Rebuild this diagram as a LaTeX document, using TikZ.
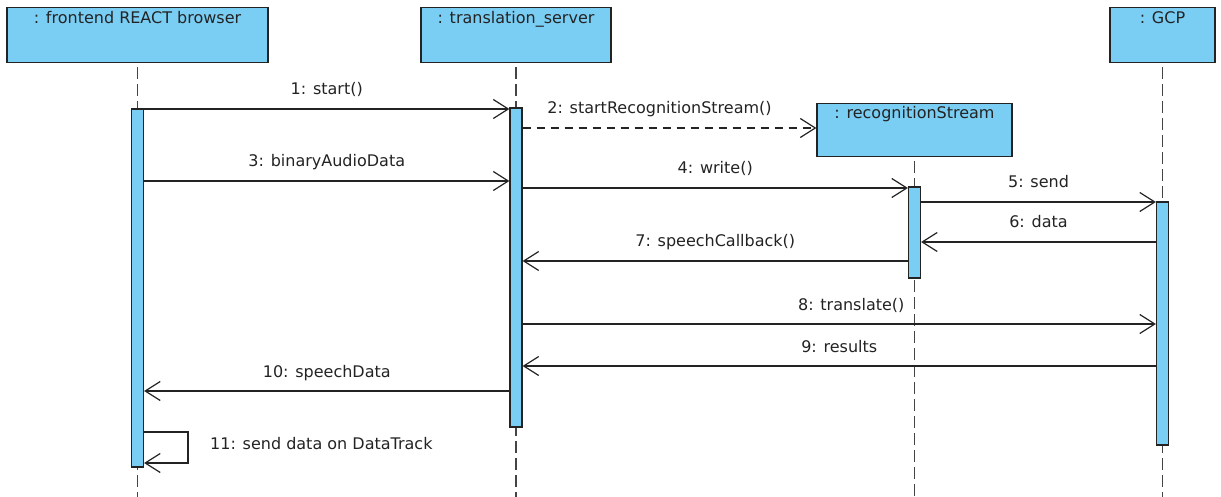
\documentclass[tikz,border=0pt]{standalone}
\usepackage{fontspec}
\setmainfont{DejaVu Sans}
\usetikzlibrary{arrows.meta}
\definecolor{uml}{RGB}{122,206,244}
\definecolor{ink}{RGB}{35,35,35}
\begin{document}
\begin{tikzpicture}[x=1pt,y=-1pt,
  font=\fontsize{16}{19}\selectfont,
  obj/.style={draw=ink, fill=uml, line width=1.2pt, minimum height=55pt, anchor=north, inner sep=0pt},
  act/.style={draw=ink, fill=uml, line width=1.2pt, minimum width=12pt, inner sep=0pt},
  life/.style={draw=ink!85, line width=1.4pt, dash pattern=on 12pt off 5pt, dash phase=-4pt},
  msg/.style={draw=ink, line width=1.2pt, -{Straight Barb[length=15pt,width=19pt,line width=1.2pt]}},
  ret/.style={msg, dash pattern=on 8pt off 6pt},
  lbl/.style={anchor=base, text=ink, inner sep=0pt},
  mlbl/.style={midway, anchor=base, text=ink, inner sep=0pt, yshift=14pt},
]
\useasboundingbox (0,0) rectangle (1221,497);
\coordinate (bot) at (0,497);
% objects
\node[obj, minimum width=261pt] (fe) at (137.5,7) {};
\node[obj, minimum width=190pt] (ts) at (516,7) {};
\node[obj, minimum width=195pt, minimum height=53pt] (rs) at (914.5,103) {};
\node[obj, minimum width=105pt] (gcp) at (1162.5,7) {};
\node[lbl] (feT) at ([yshift=-17pt]fe.north) {: frontend REACT browser};
\node[lbl] (tsT) at ([yshift=-17pt]ts.north) {: translation\_server};
\node[lbl] (rsT) at ([yshift=-16pt]rs.north) {: recognitionStream};
\node[lbl] (gcpT) at ([yshift=-17pt]gcp.north) {: GCP};
% lifelines
\draw[life] (fe.south) -- (fe.south |- bot);
\draw[life] (ts.south) -- (ts.south |- bot);
\draw[life] (rs.south) -- (rs.south |- bot);
\draw[life] (gcp.south) -- (gcp.south |- bot);
% activations
\node[act, minimum height=358pt] (feA) at (137.5,288) {};
\node[act, minimum height=319pt] (tsA) at (516,267.5) {};
\node[act, minimum height=91pt] (rsA) at (914.5,232.5) {};
\node[act, minimum height=243pt] (gcpA) at (1162.5,323.5) {};
% message heights
\coordinate (m1) at (0,109);
\coordinate (m2) at (0,128);
\coordinate (m3) at (0,181);
\coordinate (m4) at (0,188);
\coordinate (m5) at (0,202);
\coordinate (m6) at (0,242);
\coordinate (m7) at (0,261);
\coordinate (m8) at (0,324);
\coordinate (m9) at (0,366);
\coordinate (m10) at (0,391);
\coordinate (m11a) at (0,432);
\coordinate (m11b) at (0,463);
\coordinate (loop) at (188,0);
% messages
\draw[msg] (feA.east |- m1) -- node[mlbl] (l1) {1: start()} (tsA.west |- m1);
\draw[ret] (tsA.east |- m2) -- node[mlbl, xshift=-10pt] (l2) {2: startRecognitionStream()} (rs.west |- m2);
\draw[msg] (feA.east |- m3) -- node[mlbl] (l3) {3: binaryAudioData} (tsA.west |- m3);
\draw[msg] (tsA.east |- m4) -- node[mlbl] (l4) {4: write()} (rsA.west |- m4);
\draw[msg] (rsA.east |- m5) -- node[mlbl] (l5) {5: send} (gcpA.west |- m5);
\draw[msg] (gcpA.west |- m6) -- node[mlbl] (l6) {6: data} (rsA.east |- m6);
\draw[msg] (rsA.west |- m7) -- node[mlbl] (l7) {7: speechCallback()} (tsA.east |- m7);
\draw[msg] (tsA.east |- m8) -- node[mlbl, xshift=12pt] (l8) {8: translate()} (gcpA.west |- m8);
\draw[msg] (gcpA.west |- m9) -- node[mlbl] (l9) {9: results} (tsA.east |- m9);
\draw[msg] (tsA.west |- m10) -- node[mlbl] (l10) {10: speechData} (feA.east |- m10);
\draw[msg] (feA.east |- m11a) -- (loop |- m11a) -- (loop |- m11b) -- (feA.east |- m11b);
\node[anchor=base west, text=ink, inner sep=0pt] (l11) at (210,449) {11: send data on DataTrack};
\end{tikzpicture}
\end{document}
